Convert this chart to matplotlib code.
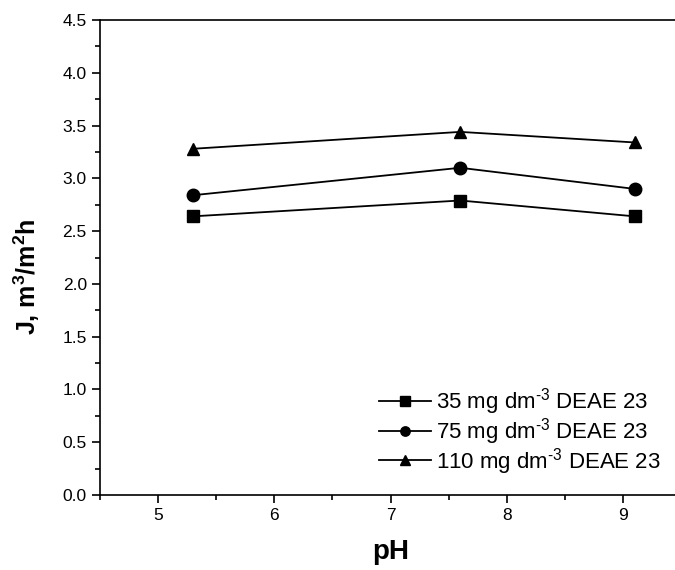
import matplotlib
matplotlib.use("Agg")
import matplotlib.pyplot as plt
from matplotlib.ticker import MultipleLocator, FormatStrFormatter

plt.rcParams['font.family'] = ['Liberation Sans', 'DejaVu Sans']
plt.rcParams['mathtext.fontset'] = 'custom'
plt.rcParams['mathtext.rm'] = 'Liberation Sans'
plt.rcParams['mathtext.bf'] = 'Liberation Sans:bold'

ph = [5.3, 7.6, 9.1]
flux_35 = [2.64, 2.79, 2.64]
flux_75 = [2.84, 3.10, 2.90]
flux_110 = [3.28, 3.44, 3.34]
labels = ["35 mg dm$^{\\text{-3}}$ DEAE 23",
          "75 mg dm$^{\\text{-3}}$ DEAE 23",
          "110 mg dm$^{\\text{-3}}$ DEAE 23"]

fig = plt.figure(figsize=(6.75, 5.7), dpi=100)
ax = fig.add_axes([100 / 675, 75 / 570, 581 / 675, 475 / 570])

for y, m, lab in zip([flux_35, flux_75, flux_110], ['s', 'o', '^'], labels):
    ax.plot(ph, y, color='black', marker=m, markersize=9, linewidth=1.3, label=lab)

ax.set_xlim(4.5, 9.5)
ax.set_ylim(0, 4.5)
ax.xaxis.set_major_locator(MultipleLocator(1))
ax.xaxis.set_minor_locator(MultipleLocator(0.5))
ax.yaxis.set_major_locator(MultipleLocator(0.5))
ax.yaxis.set_minor_locator(MultipleLocator(0.25))
ax.tick_params(which='major', direction='out', length=6, width=1.2, labelsize=12.5)
ax.tick_params(which='minor', direction='out', length=3.5, width=1.2)
ax.yaxis.set_major_formatter(FormatStrFormatter('%.1f'))
for s in ax.spines.values():
    s.set_linewidth(1.2)
ax.spines['right'].set_visible(False)

ax.set_xlabel("pH", fontsize=20, fontweight='bold')
ax.xaxis.set_label_coords(0.501, -0.093)
ax.set_ylabel("J, m$^\\mathbf{3}$/m$^\\mathbf{2}$h", fontsize=18, fontweight='bold')
ax.yaxis.set_label_coords(-0.1, 0.46)

ax.legend(loc='lower right', bbox_to_anchor=(0.981, 0.02), frameon=False, fontsize=16,
          handlelength=2.35, handletextpad=0.25, labelspacing=-0.05, borderaxespad=0,
          markerscale=0.75)

fig.savefig("out.png", dpi=100)
